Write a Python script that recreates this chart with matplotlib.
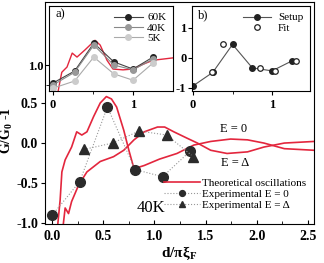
import numpy as np
import matplotlib
matplotlib.use("Agg")
import matplotlib.pyplot as plt

plt.rcParams['font.family'] = ['Liberation Serif', 'DejaVu Serif']
plt.rcParams['mathtext.fontset'] = 'custom'
plt.rcParams['mathtext.rm'] = 'Liberation Serif'
plt.rcParams['mathtext.bf'] = 'Liberation Serif:bold'

RED = '#e3263d'
DARK = '#2b2b2b'

# ---- main panel data ----
d_e0 = [0.0, 0.27, 0.54, 0.81, 1.08, 1.35]
g_e0 = [-0.90, -0.48, 0.45, -0.33, -0.42, -0.10]
d_ed = [0.31, 0.59, 0.85, 1.12, 1.38]
g_ed = [-0.08, 0.00, 0.15, 0.10, -0.17]

# theoretical curves
th0_x = [0.056, 0.078, 0.095, 0.127, 0.19, 0.24, 0.29, 0.34, 0.405, 0.47, 0.53,
         0.58, 0.63, 0.70, 0.75, 0.80, 0.90, 1.05, 1.22, 1.385, 1.55, 1.745,
         1.91, 2.07, 2.27, 2.56]
th0_y = [-1.0, -0.71, -0.36, -0.21, -0.05, 0.14, 0.10, 0.14, 0.33, 0.50, 0.58,
         0.55, 0.45, 0.16, -0.09, -0.32, -0.28, -0.20, -0.13, -0.025, 0.02, 0.05,
         0.04, 0.0, -0.07, -0.09]
thd_x = [0.11, 0.127, 0.16, 0.19, 0.26, 0.34, 0.47, 0.60, 0.70, 0.80, 0.90,
         1.03, 1.10, 1.19, 1.32, 1.42, 1.55, 1.71, 1.91, 2.07, 2.27, 2.56]
thd_y = [-1.0, -0.81, -0.88, -0.73, -0.52, -0.36, -0.23, -0.17, -0.09, 0.04, 0.14,
         0.20, 0.20, 0.14, 0.06, 0.0, -0.09, -0.13, -0.11, -0.05, 0.0, 0.02]

# ---- inset a data ----
a_x = [0.0, 0.27, 0.51, 0.76, 1.0, 1.25]
a_60k = [0.775, 0.925, 1.275, 1.04, 0.95, 1.10]
a_40k = [0.75, 0.91, 1.25, 1.00, 0.94, 1.075]
a_5k = [0.71, 0.80, 1.10, 0.89, 0.81, 1.025]
a_th_x = [0.06, 0.09, 0.11, 0.175, 0.24, 0.30, 0.40, 0.525, 0.59, 0.675, 0.75,
          0.875, 1.0, 1.125, 1.25, 1.5]
a_th_y = [0.65, 0.81, 0.91, 0.975, 1.15, 1.10, 1.19, 1.31, 1.25, 1.06, 0.95,
          0.94, 0.95, 1.01, 1.06, 1.09]

# ---- inset b data ----
b_setup_x = [0.0, 0.25, 0.5, 0.75, 1.0, 1.25]
b_setup_y = [-0.93, -0.48, 0.45, -0.33, -0.43, -0.10]
b_fit_x = [0.24, 0.38, 0.85, 1.04, 1.30]
b_fit_y = [-0.48, 0.45, -0.33, -0.43, -0.10]

W, H = 324, 263
fig = plt.figure(figsize=(W / 100, H / 100), dpi=100)


def box(l, t, r, b):
    return [l / W, 1 - b / H, (r - l) / W, (b - t) / H]


tickfont = dict(fontweight='bold')

# main axes
ax = fig.add_axes(box(45, 2, 314, 224))
ax.plot(th0_x, th0_y, color=RED, lw=1.2, label='Theoretical oscillations')
ax.plot(thd_x, thd_y, color=RED, lw=1.2)
ax.plot(d_e0, g_e0, ls=':', color='#999999', lw=0.8, marker='o', ms=7,
        mfc=DARK, mec=DARK, label='Experimental E = 0')
ax.plot(d_ed, g_ed, ls=':', color='#999999', lw=0.8, marker='^', ms=7,
        mfc=DARK, mec=DARK, label='Experimental E = Δ')
ax.set_xlim(-0.07, 2.56)
ax.set_ylim(-1.01, 1.76)
ax.set_xticks([0.0, 0.5, 1.0, 1.5, 2.0, 2.5])
ax.set_xticks(np.arange(0, 2.6, 0.25), minor=True)
ax.set_yticks([-1.0, -0.5, 0.0, 0.5])
ax.set_xticklabels(['0.0', '0.5', '1.0', '1.5', '2.0', '2.5'], fontsize=10, **tickfont)
ax.set_yticklabels(['-1.0', '-0.5', '0.0', '0.5'], fontsize=10, **tickfont)
ax.tick_params(axis='x', direction='in', length=3, pad=4)
ax.tick_params(axis='x', which='minor', direction='in', length=2)
ax.tick_params(axis='y', direction='out', length=3, pad=2)
ax.set_xlabel(r'd/πξ$_\mathbf{F}$', fontsize=11, fontweight='bold', labelpad=1)
ax.set_ylabel(r'G/G$_\mathbf{0}$ -1', fontsize=10, fontweight='bold', labelpad=0)
ax.yaxis.set_label_coords(-0.11, 0.42)
ax.text(1.77, 0.17, 'E = 0', fontsize=9, ha='center', va='center')
ax.text(1.79, -0.25, 'E = Δ', fontsize=9, ha='center', va='center')
ax.text(0.83, -0.81, '40K', fontsize=12, ha='left', va='center')
leg = ax.legend(loc='lower right', fontsize=8, frameon=False, handlelength=3.2,
                handletextpad=0.2, labelspacing=0.1, borderaxespad=0.3,
                markerscale=0.6, bbox_to_anchor=(1.0, 0.03))

# inset a
axa = fig.add_axes(box(49, 6, 173, 91))
axa.set_facecolor('white')
axa.plot(a_th_x, a_th_y, color=RED, lw=1.0, zorder=1)
axa.plot(a_x, a_60k, color='#444444', lw=0.8, marker='o', ms=4,
         mfc='#222222', mec='#222222', label='60K')
axa.plot(a_x, a_40k, color='#888888', lw=0.8, marker='o', ms=4,
         mfc='#999999', mec='#999999', label='40K')
axa.plot(a_x, a_5k, color='#aaaaaa', lw=0.8, marker='o', ms=4,
         mfc='#cccccc', mec='#cccccc', label='5K')
axa.set_xlim(-0.05, 1.5)
axa.set_ylim(0.675, 1.74)
axa.set_xticks([0, 1])
axa.set_xticks([0.5], minor=True)
axa.set_xticklabels(['0', '1'], fontsize=9, **tickfont)
axa.set_yticks([1.0])
axa.set_yticks([0.75], minor=True)
axa.set_yticklabels(['1.0'], fontsize=9, **tickfont)
axa.tick_params(direction='out', length=3, pad=1)
axa.tick_params(axis='x', pad=3)
axa.text(0.05, 0.87, 'a)', transform=axa.transAxes, fontsize=9)
axa.legend(loc='upper right', fontsize=8, frameon=False, handlelength=2.6,
           handletextpad=0.4, labelspacing=0.05, borderaxespad=0.2,
           markerfirst=True)

# inset b
axb = fig.add_axes(box(192, 6, 310, 91))
axb.set_facecolor('white')
axb.plot(b_setup_x, b_setup_y, color='#555555', lw=0.8, marker='o', ms=4,
         mfc='#222222', mec='#222222', label='Setup')
axb.plot(b_fit_x, b_fit_y, ls='none', marker='o', ms=4, mfc='white',
         mec='#222222', mew=0.9, label='Fit')
axb.set_xlim(-0.013, 1.48)
axb.set_ylim(-1.1, 1.73)
axb.set_xticks([0, 1])
axb.set_xticks([0.5], minor=True)
axb.set_xticklabels(['0', '1'], fontsize=9, **tickfont)
axb.set_yticks([-1, 0, 1])
axb.set_yticklabels(['-1', '0', '1'], fontsize=9, **tickfont)
axb.tick_params(direction='out', length=3, pad=1)
axb.tick_params(axis='x', pad=3)
axb.text(0.05, 0.85, 'b)', transform=axb.transAxes, fontsize=9)
axb.legend(loc='upper right', fontsize=8, frameon=False, handlelength=2.6,
           handletextpad=0.6, labelspacing=0.05, borderaxespad=0.2)

fig.savefig('out.png', dpi=100)
